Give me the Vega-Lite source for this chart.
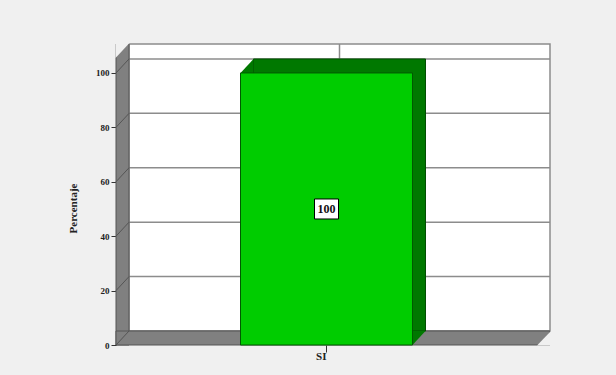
{
  "$schema": "https://vega.github.io/schema/vega-lite/v6.json",
  "autosize": {"type": "none"},
  "padding": {"left": 116, "top": 58, "right": 79, "bottom": 30},
  "width": 421,
  "height": 287,
  "background": "#f0f0f0",
  "config": {
    "view": {"stroke": null},
    "font": "Liberation Serif"
  },
  "datasets": {
    "respuestas": [{"respuesta": "SI", "porcentaje": 100}],
    "marcas": [{"v": 0}, {"v": 20}, {"v": 40}, {"v": 60}, {"v": 80}, {"v": 100}]
  },
  "data": {"name": "respuestas"},
  "layer": [
    {
      "description": "back wall of the 3D box",
      "mark": {"type": "rect", "fill": "white", "stroke": "#8c8c8c", "strokeWidth": 1.5,
               "xOffset": 13, "x2Offset": 13, "yOffset": -14, "y2Offset": -14},
      "encoding": {"x": {"value": 0}, "x2": {"value": "width"}, "y": {"value": 0}, "y2": {"value": "height"}}
    },
    {
      "description": "horizontal gridlines on the back wall",
      "data": {"name": "marcas"},
      "mark": {"type": "rule", "stroke": "#8c8c8c", "strokeWidth": 1.5,
               "xOffset": 13, "x2Offset": 13, "yOffset": -14, "y2Offset": -14},
      "encoding": {
        "x": {"value": 0}, "x2": {"value": "width"},
        "y": {"field": "v", "type": "quantitative", "scale": {"domain": [0, 105.5], "nice": false}}
      }
    },
    {
      "description": "category gridline on the back wall",
      "mark": {"type": "rule", "stroke": "#8c8c8c", "strokeWidth": 1.5,
               "xOffset": 13, "x2Offset": 13, "yOffset": -14, "y2Offset": -14},
      "encoding": {
        "x": {"field": "respuesta", "type": "nominal", "scale": {"type": "band", "paddingInner": 0, "paddingOuter": 0.724}},
        "y": {"value": 0}, "y2": {"value": "height"}
      }
    },
    {
      "description": "left side wall",
      "mark": {"type": "rect", "fill": "#808080", "stroke": "#555555", "strokeWidth": 1,
               "x2Offset": 13, "yOffset": -14},
      "encoding": {"x": {"value": 0}, "x2": {"value": 0}, "y": {"value": 0}, "y2": {"value": "height"}}
    },
    {
      "description": "floor",
      "mark": {"type": "rect", "fill": "#808080", "stroke": "#555555", "strokeWidth": 1,
               "x2Offset": 13, "yOffset": -14},
      "encoding": {"x": {"value": 0}, "x2": {"value": "width"}, "y": {"value": "height"}, "y2": {"value": "height"}}
    },
    {
      "description": "bevelled corner at the top of the side wall",
      "mark": {"type": "point", "shape": "M0,0L0,-15L14,-15Z", "size": 4, "filled": true,
               "fill": "#f0f0f0", "strokeWidth": 0, "opacity": 1},
      "encoding": {"x": {"value": -0.5}, "y": {"value": 0}}
    },
    {
      "description": "bevelled corner at the right end of the floor",
      "mark": {"type": "point", "shape": "M0,0.5L14,0.5L14,-14Z", "size": 4, "filled": true,
               "fill": "#f0f0f0", "strokeWidth": 0, "opacity": 1},
      "encoding": {"x": {"value": "width"}, "y": {"value": "height"}}
    },
    {
      "description": "gridlines running across the side wall",
      "data": {"name": "marcas"},
      "mark": {"type": "rule", "stroke": "#555555", "strokeWidth": 1, "x2Offset": 13, "y2Offset": -14},
      "encoding": {
        "x": {"value": 0}, "x2": {"value": 0},
        "y": {"field": "v", "type": "quantitative"},
        "y2": {"field": "v"}
      }
    },
    {
      "description": "depth of the bar (top and side faces)",
      "mark": {"type": "bar", "fill": "#007800", "stroke": "#004d00", "strokeWidth": 1,
               "xOffset": 13, "x2Offset": 13, "yOffset": -14, "y2Offset": -14},
      "encoding": {
        "x": {"field": "respuesta", "type": "nominal"},
        "y": {"field": "porcentaje", "type": "quantitative"}
      }
    },
    {
      "description": "top-left bevel of the bar",
      "mark": {"type": "point", "shape": "M0,0L13,-14L13,0Z", "size": 4, "filled": true,
               "fill": "#007800", "strokeWidth": 0, "opacity": 1},
      "encoding": {
        "x": {"field": "respuesta", "type": "nominal", "bandPosition": 0},
        "y": {"field": "porcentaje", "type": "quantitative"}
      }
    },
    {
      "description": "bottom-right bevel of the bar",
      "mark": {"type": "point", "shape": "M0,0L13,-14L0,-14Z", "size": 4, "filled": true,
               "fill": "#007800", "strokeWidth": 0, "opacity": 1},
      "encoding": {
        "x": {"field": "respuesta", "type": "nominal", "bandPosition": 1},
        "y": {"datum": 0}
      }
    },
    {
      "description": "front face of the bar",
      "mark": {"type": "bar", "fill": "#00cc00", "stroke": "#005a00", "strokeWidth": 1},
      "encoding": {
        "x": {
          "field": "respuesta", "type": "nominal",
          "axis": {"title": null, "labelAngle": 0, "domain": false, "ticks": true, "tickSize": 7,
                   "tickColor": "#333333", "labelFont": "Liberation Serif", "labelFontSize": 11,
                   "labelFontWeight": "bold", "labelColor": "#222222", "labelPadding": 4}
        },
        "y": {
          "field": "porcentaje", "type": "quantitative",
          "axis": {"title": "Percentaje", "values": [0, 20, 40, 60, 80, 100], "grid": false,
                   "domain": true, "domainColor": "#404040", "tickColor": "#333333", "tickSize": 5,
                   "labelFont": "Liberation Serif", "labelFontSize": 9, "labelFontWeight": "bold",
                   "labelColor": "#222222", "labelPadding": 2,
                   "titleFont": "Liberation Serif", "titleFontSize": 11, "titleFontWeight": "bold",
                   "titleColor": "#222222", "titlePadding": 17, "titleY": 150}
        }
      }
    },
    {
      "description": "box behind the value label",
      "mark": {"type": "point", "shape": "M-12,-10H12V10H-12Z", "size": 4, "filled": true,
               "fill": "white", "stroke": "black", "strokeWidth": 1, "opacity": 1},
      "encoding": {
        "x": {"field": "respuesta", "type": "nominal"},
        "y": {"datum": 50}
      }
    },
    {
      "description": "value label",
      "mark": {"type": "text", "font": "Liberation Serif", "fontSize": 12, "fontWeight": "bold",
               "color": "#111111", "baseline": "middle", "align": "center"},
      "encoding": {
        "x": {"field": "respuesta", "type": "nominal"},
        "y": {"datum": 50},
        "text": {"field": "porcentaje", "type": "quantitative"}
      }
    }
  ]
}
